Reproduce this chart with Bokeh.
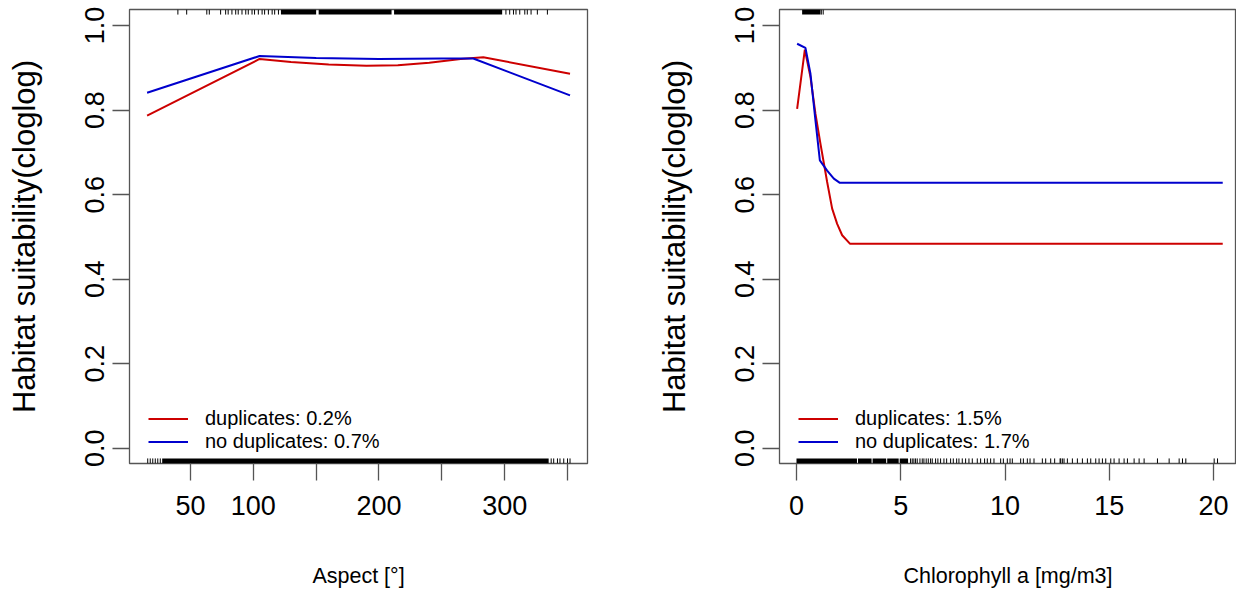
from bokeh.plotting import figure
from bokeh.layouts import row
from bokeh.models import FixedTicker, Legend, LegendItem, Range1d, LinearAxis
from bokeh.embed import file_html
from bokeh.resources import INLINE

# ---------------- data ----------------
# Panel 1: Aspect
aspect_x_dup = [15.5, 105, 130, 160, 190, 215, 240, 265, 283, 352]
aspect_y_dup = [0.787, 0.921, 0.914, 0.908, 0.905, 0.906, 0.912, 0.921, 0.925, 0.886]
aspect_x_nodup = [15.5, 105, 150, 200, 250, 275, 352]
aspect_y_nodup = [0.841, 0.928, 0.923, 0.921, 0.922, 0.922, 0.835]

aspect_rug_top = [40, 47, 63, 65, 74, 78, 80, 83, 86, 88, 91, 94, 96, 99, 101,
                  104, 107, 109, 112, 115, 117, 120, 301, 304, 307, 309, 312,
                  316, 318, 321, 326, 334]
aspect_rug_top_band_lo = [122, 152, 212]
aspect_rug_top_band_hi = [150, 210, 298]
aspect_rug_bot = [16, 18, 20, 22, 24, 26, 337, 339, 342, 344, 347, 350, 352]
aspect_rug_bot_band_lo = [27.5]
aspect_rug_bot_band_hi = [335]

aspect_ticks = [50, 100, 150, 200, 250, 300, 350]
aspect_tick_labels = ["50", "100", "", "200", "", "300", ""]
aspect_labels = ["duplicates: 0.2%", "no duplicates: 0.7%"]
aspect_title = "Aspect [°]"

# Panel 2: Chlorophyll a
chl_x_dup = [0.03, 0.40, 0.67, 0.91, 1.15, 1.47, 1.71, 1.95, 2.19, 2.56, 20.44]
chl_y_dup = [0.803, 0.943, 0.878, 0.791, 0.720, 0.630, 0.567, 0.531, 0.504, 0.484, 0.484]
chl_x_nodup = [0.03, 0.43, 0.67, 0.91, 1.12, 1.47, 1.79, 2.08, 20.44]
chl_y_nodup = [0.957, 0.947, 0.886, 0.775, 0.681, 0.657, 0.638, 0.628, 0.628]

chl_rug_top = [1.19, 1.28]
chl_rug_top_band_lo = [0.27]
chl_rug_top_band_hi = [1.15]
chl_rug_bot = [5.47, 5.55, 5.63, 5.71, 5.79, 5.92, 6.03, 6.11, 6.22, 6.32, 6.43,
               6.51, 6.67, 6.78, 6.91, 7.07, 7.20, 7.39, 7.52, 7.68, 7.79, 7.95,
               8.11, 8.27, 8.43, 8.67, 8.83, 9.02, 9.15, 9.31, 9.47, 9.79, 9.92,
               10.11, 10.24, 10.35, 10.75, 10.88, 11.07, 11.20, 11.39, 11.79,
               11.95, 12.19, 12.38, 12.64, 12.67, 12.75, 12.83, 12.99, 13.23,
               13.47, 13.71, 13.95, 14.11, 14.35, 14.51, 14.67, 14.83, 15.07,
               15.23, 15.47, 15.71, 15.87, 16.19, 16.43, 16.67, 17.31, 17.87,
               18.35, 18.51, 18.67, 20.03, 20.19]
chl_rug_bot_band_lo = [0.0, 2.95, 3.65, 4.35, 4.95]
chl_rug_bot_band_hi = [2.9, 3.6, 4.3, 4.9, 5.35]

chl_ticks = [0, 5, 10, 15, 20]
chl_tick_labels = ["0", "5", "10", "15", "20"]
chl_labels = ["duplicates: 1.5%", "no duplicates: 1.7%"]
chl_title = "Chlorophyll a [mg/m3]"

y_ticks = [0.0, 0.2, 0.4, 0.6, 0.8, 1.0]
y_tick_labels = ["0.0", "0.2", "0.4", "0.6", "0.8", "1.0"]
y_title = "Habitat suitability(cloglog)"

# ---------------- style ----------------
FONT = "Liberation Sans"
TICK_FS = "27px"
XLAB_FS = "21.5px"
YLAB_FS = "31px"
LEG_FS = "20px"
RED = "#cd0000"
BLUE = "#0000cd"
GREY = "#555555"
Y0, Y1 = -0.036, 1.038
RUG = 0.012


def panel(xr, xlab, xlab_span, width, bl, br, xd, yd, xn, yn, rug_top, tlo, thi,
          rug_bot, blo, bhi, ticks, tlabels, labels):
    p = figure(width=width, height=592, x_range=Range1d(*xr),
               y_range=Range1d(Y0, Y1), output_backend="svg",
               toolbar_location=None, min_border_left=bl, min_border_right=br,
               min_border_top=9, min_border_bottom=129)
    p.xgrid.visible = False
    p.ygrid.visible = False
    p.outline_line_color = GREY
    p.outline_line_width = 1.3
    p.background_fill_color = "white"
    p.border_fill_color = "white"

    for ax, tk, tl in ((p.xaxis[0], ticks, tlabels), (p.yaxis[0], y_ticks, y_tick_labels)):
        ax.ticker = FixedTicker(ticks=tk)
        ax.major_label_overrides = {t: l for t, l in zip(tk, tl)}
        ax.minor_tick_line_color = None
        ax.major_tick_in = 0
        ax.major_tick_out = 17
        ax.major_tick_line_color = GREY
        ax.major_tick_line_width = 1.3
        ax.axis_line_color = None
        ax.major_label_text_font = FONT
        ax.major_label_text_font_size = TICK_FS
        ax.major_label_text_color = "black"
        ax.axis_label_text_font = FONT
        ax.axis_label_text_font_style = "normal"
        ax.axis_label_text_color = "black"
    p.xaxis.major_label_standoff = 15
    p.yaxis.axis_label = y_title
    p.yaxis.axis_label_text_font_size = YLAB_FS
    p.yaxis.major_label_orientation = "vertical"
    p.yaxis.major_label_standoff = 8
    p.yaxis.axis_label_standoff = 41

    # x-axis title: carried by a bare second axis whose bounds centre it
    # a little left of the frame centre, as in the original
    tax = LinearAxis(axis_label=xlab, bounds=xlab_span,
                     ticker=FixedTicker(ticks=[]), axis_line_color=None,
                     major_tick_line_color=None, minor_tick_line_color=None,
                     major_tick_out=0, major_tick_in=0, minor_tick_out=0,
                     major_label_text_font_size="0px",
                     axis_label_standoff=46, axis_label_text_font=FONT,
                     axis_label_text_font_size=XLAB_FS,
                     axis_label_text_font_style="normal",
                     axis_label_text_color="black")
    p.add_layout(tax, "below")

    # rugs
    p.segment(x0=rug_top, x1=rug_top, y0=[Y1] * len(rug_top),
              y1=[Y1 - RUG] * len(rug_top), line_color="black", line_width=1)
    p.quad(left=tlo, right=thi, top=[Y1] * len(tlo), bottom=[Y1 - RUG] * len(tlo),
           fill_color="black", line_color=None)
    p.segment(x0=rug_bot, x1=rug_bot, y0=[Y0] * len(rug_bot),
              y1=[Y0 + RUG] * len(rug_bot), line_color="black", line_width=1)
    p.quad(left=blo, right=bhi, top=[Y0 + RUG] * len(blo), bottom=[Y0] * len(blo),
           fill_color="black", line_color=None)

    r1 = p.line(xd, yd, line_color=RED, line_width=2)
    r2 = p.line(xn, yn, line_color=BLUE, line_width=2)

    leg = Legend(items=[LegendItem(label=labels[0], renderers=[r1]),
                        LegendItem(label=labels[1], renderers=[r2])],
                 location=(19, 10), glyph_width=40, glyph_height=23,
                 label_height=23, label_standoff=17, spacing=0, padding=0,
                 margin=0, border_line_color=None, background_fill_alpha=0,
                 label_text_font=FONT, label_text_font_size=LEG_FS,
                 label_text_color="black")
    p.add_layout(leg)
    return p


p1 = panel((1.5, 365.9), aspect_title, (1.5, 341.9), 640, 129, 53,
           aspect_x_dup, aspect_y_dup, aspect_x_nodup, aspect_y_nodup,
           aspect_rug_top, aspect_rug_top_band_lo, aspect_rug_top_band_hi,
           aspect_rug_bot, aspect_rug_bot_band_lo, aspect_rug_bot_band_hi,
           aspect_ticks, aspect_tick_labels, aspect_labels)
p2 = panel((-0.815, 21.10), chl_title, (-0.815, 18.86), 596, 139, 0,
           chl_x_dup, chl_y_dup, chl_x_nodup, chl_y_nodup,
           chl_rug_top, chl_rug_top_band_lo, chl_rug_top_band_hi,
           chl_rug_bot, chl_rug_bot_band_lo, chl_rug_bot_band_hi,
           chl_ticks, chl_tick_labels, chl_labels)

layout = row(p1, p2, spacing=0)
open("out.html", "w").write(file_html(layout, INLINE))
